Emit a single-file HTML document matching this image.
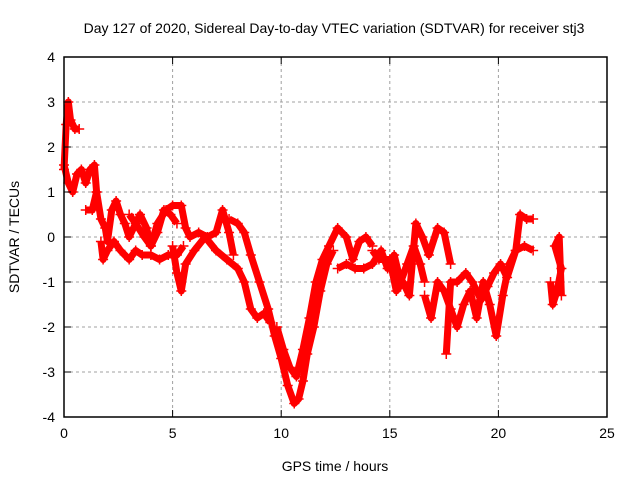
<!DOCTYPE html>
<html><head><meta charset="utf-8"><style>
body{margin:0;background:#fff}
svg text{font-family:"Liberation Sans",sans-serif;font-size:14px;fill:#000}
</style></head><body>
<svg id="chart" width="640" height="480" xmlns="http://www.w3.org/2000/svg">
<text x="334" y="33" text-anchor="middle">Day 127 of 2020, Sidereal Day-to-day VTEC variation (SDTVAR) for receiver stj3</text>
<text x="335" y="471" text-anchor="middle">GPS time / hours</text>
<text transform="translate(19,237) rotate(-90)" text-anchor="middle">SDTVAR / TECUs</text>
<g id="grid"></g><g id="marks"></g><g id="axes"></g>
</svg>
<script>
const xTicks=[0,5,10,15,20,25];
const yTicks=[-4,-3,-2,-1,0,1,2,3,4];
const trackTimes=[
[0.0,0.1,0.2,0.3,0.5,0.7],
[0.0,0.2,0.4,0.6,0.8,1.0,1.2,1.4,1.5],
[1.0,1.3,1.5,1.7,1.9,2.0,2.2,2.4,2.6,2.8,3.0,3.2,3.5,3.8,4.0,4.3,4.6,4.9,5.2],
[1.7,1.8,2.0,2.3,2.6,3.0,3.3,3.6,4.0,4.4,4.8,5.2,5.5],
[3.0,3.3,3.7,4.0,4.3,4.7,5.0,5.4,5.6,5.8,6.2,6.6,7.0,7.3,7.6,7.8],
[5.0,5.2,5.4,5.6,6.0,6.5,7.0,7.5,8.0,8.3,8.6,8.9,9.2,9.5],
[7.6,8.0,8.3,8.6,9.0,9.4,9.7,10.0,10.3,10.6,10.8,11.0,11.2,11.5,11.8,12.1,12.4],
[9.8,10.1,10.4,10.7,11.0,11.3,11.6,11.9,12.2,12.6,13.0,13.3,13.6,13.9,14.2],
[12.6,13.0,13.4,13.8,14.2,14.6,14.9,15.2,15.5,15.8,16.1,16.4,16.6],
[14.2,14.5,15.0,15.3,15.6,15.9,16.2,16.5,16.8,17.2,17.5,17.8],
[16.6,16.9,17.2,17.5,17.8,18.1,18.4,18.7,19.0,19.3,19.6,19.9,20.2,20.5,20.8,21.0,21.3,21.6],
[17.6,17.8,18.1,18.5,18.8,19.2,19.5,19.8,20.1,20.4,20.8,21.2,21.6],
[22.4,22.5,22.7,22.9,22.6,22.8,22.9]
];
const trackValues=[
[1.5,2.5,3.0,2.6,2.4,2.4],
[1.6,1.2,1.0,1.4,1.5,1.2,1.5,1.6,1.0],
[0.6,0.6,1.0,0.4,0.2,-0.1,0.6,0.8,0.5,0.3,0.0,0.2,0.5,0.2,-0.2,0.1,0.6,0.5,0.3],
[-0.1,-0.5,-0.3,-0.1,-0.3,-0.5,-0.3,-0.4,-0.4,-0.5,-0.4,-0.4,-0.2],
[0.5,0.3,0.0,-0.2,0.3,0.6,0.7,0.7,0.2,0.0,0.1,0.0,0.1,0.6,0.1,-0.4],
[-0.2,-0.8,-1.2,-0.6,-0.3,0.0,-0.3,-0.5,-0.7,-1.0,-1.6,-1.8,-1.7,-1.9],
[0.4,0.3,0.1,-0.4,-1.0,-1.6,-2.2,-2.7,-3.3,-3.7,-3.6,-3.2,-2.6,-2.0,-1.2,-0.6,-0.3],
[-2.0,-2.5,-2.9,-3.1,-2.5,-1.8,-1.0,-0.5,-0.2,0.2,0.0,-0.5,-0.1,0.0,-0.2],
[-0.7,-0.6,-0.7,-0.7,-0.6,-0.3,-0.7,-0.4,-1.0,-0.6,-0.2,-0.6,-1.0],
[-0.3,-0.5,-0.5,-1.2,-1.0,-1.3,0.3,0.0,-0.4,0.2,0.1,-0.6],
[-1.3,-1.8,-1.0,-1.2,-1.6,-2.0,-1.5,-1.2,-1.8,-1.0,-1.5,-2.2,-1.3,-0.6,-0.3,0.5,0.4,0.4],
[-2.6,-1.0,-1.0,-0.8,-1.0,-1.4,-1.1,-0.8,-0.6,-0.9,-0.3,-0.2,-0.3],
[-1.0,-1.5,-1.2,-0.7,-0.2,0.0,-1.3]
];
const L=64,R=607,T=57,B=417;
const xs=v=>L+(v-0)/25*(R-L);
const ys=v=>B-(v+4)/8*(B-T);
const NS="http://www.w3.org/2000/svg";
function mk(tag,attrs,parent){const e=document.createElementNS(NS,tag);for(const k in attrs)e.setAttribute(k,attrs[k]);parent.appendChild(e);return e;}
const grid=document.getElementById('grid'),axes=document.getElementById('axes'),marks=document.getElementById('marks');
xTicks.forEach(t=>{
  const x=xs(t);
  if(t>0&&t<25){const g=mk('line',{x1:x,x2:x,y1:T,y2:B,stroke:'#a0a0a0','stroke-dasharray':'3,3'},grid);
  
  }
  mk('line',{x1:x,x2:x,y1:B,y2:B-7,stroke:'#000'},axes);
  mk('line',{x1:x,x2:x,y1:T,y2:T+7,stroke:'#000'},axes);
  const tx=mk('text',{x:x,y:B+21,'text-anchor':'middle'},axes);tx.textContent=t;
  
  
});
yTicks.forEach(t=>{
  const y=ys(t);
  if(t>-4&&t<4){const g=mk('line',{x1:L,x2:R,y1:y,y2:y,stroke:'#a0a0a0','stroke-dasharray':'3,3'},grid);
  
  }
  mk('line',{x1:L,x2:L+7,y1:y,y2:y,stroke:'#000'},axes);
  mk('line',{x1:R,x2:R-7,y1:y,y2:y,stroke:'#000'},axes);
  const tx=mk('text',{x:L-9,y:y+5,'text-anchor':'end'},axes);tx.textContent=t;
  
  
});
const frame=mk('rect',{x:L,y:T,width:R-L,height:B-T,fill:'none',stroke:'#000','stroke-width':1.5},axes);


trackTimes.forEach((tt,i)=>{
  const vv=trackValues[i];
  const pts=tt.map((t,j)=>xs(t)+','+ys(vv[j])).join(' ');
  const pl=mk('polyline',{points:pts,fill:'none',stroke:'#f00','stroke-width':7,'stroke-linejoin':'round'},marks);
  
  
  tt.forEach((t,j)=>{
    const x=xs(t),y=ys(vv[j]);
    const p=mk('path',{d:`M${x-5},${y}H${x+5}M${x},${y-5}V${y+5}`,stroke:'#f00','stroke-width':1.5},marks);
    
    
  });
});
</script>
</body></html>
